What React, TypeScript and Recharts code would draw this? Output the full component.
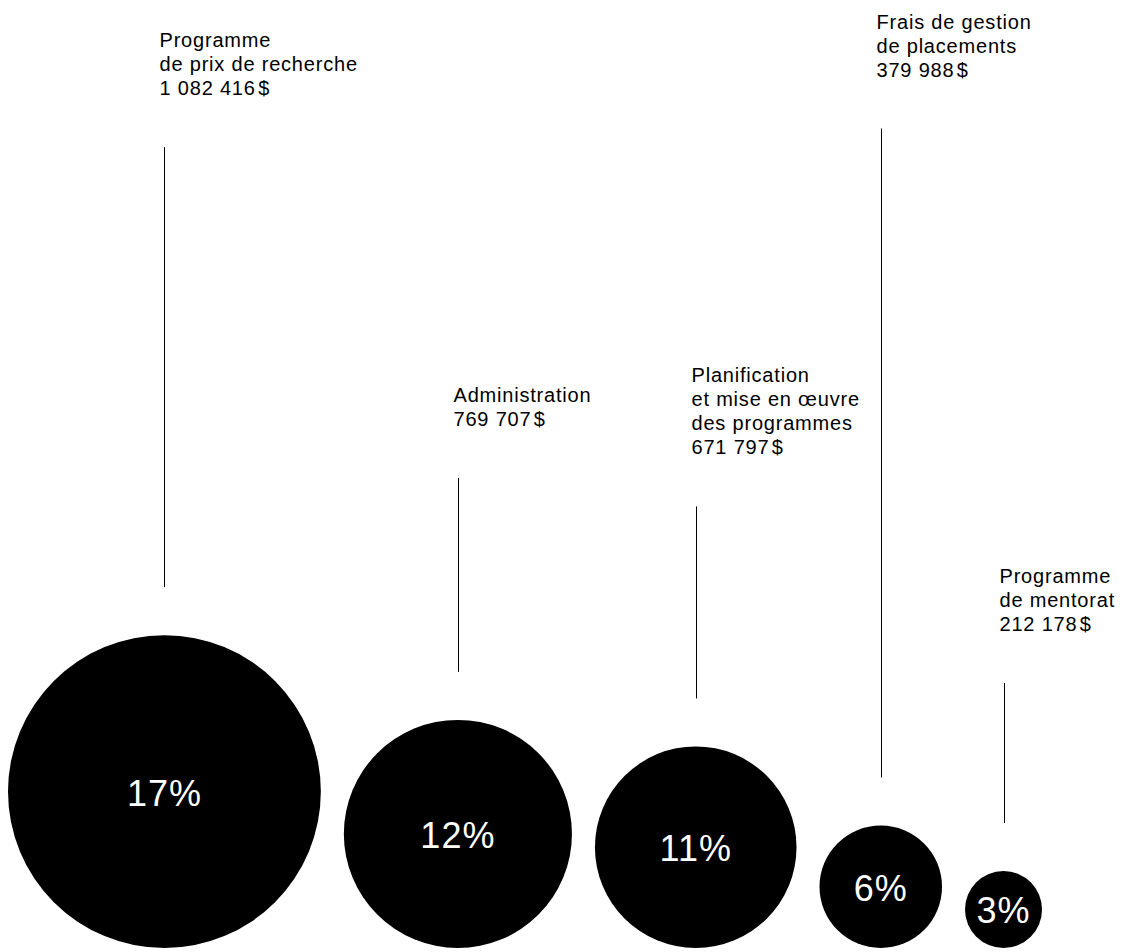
import React from 'react';
import { ScatterChart, Scatter, XAxis, YAxis, ZAxis } from 'recharts';

// ---- data ----
const categories: string[][] = [
  ['Programme', 'de prix de recherche'],
  ['Administration'],
  ['Planification', 'et mise en œuvre', 'des programmes'],
  ['Frais de gestion', 'de placements'],
  ['Programme', 'de mentorat'],
];
const amounts: number[] = [1082416, 769707, 671797, 379988, 212178];
const percents: number[] = [17, 12, 11, 6, 3];

// ---- layout / style constants ----
const CHART_W = 1122;
const CHART_H = 944;
const PX_PER_DOLLAR = 1.355e-4; // bubble radius scale (px per $)
const RADIUS_OFFSET = 72000; // $ offset so radius = PX_PER_DOLLAR * (amount + offset)
const GAP_PX = 23; // space between bubbles
const LEADER_LENGTHS = [440, 194, 192, 649, 140];
const LEADER_GAP = 48;
const LABEL_GAP = 52;
const LINE_H = 24;
const FONT = '"Liberation Sans", Arial, sans-serif';

const fmtAmount = (n: number) =>
  String(n).replace(/\B(?=(\d{3})+(?!\d))/g, ' ') + '\u200A$';

const maxAmount = Math.max(...amounts);
const gapUnits = GAP_PX / PX_PER_DOLLAR;

let acc = 0;
const table = amounts.map((amount, i) => {
  const half = amount + RADIUS_OFFSET;
  const pos = acc + half;
  acc += 2 * half + gapUnits;
  return {
    index: i,
    pos,
    base: 0,
    amount,
    percent: percents[i],
    lines: [...categories[i], fmtAmount(amount)],
  };
});

function Bubble(props: any) {
  const { cx, cy, size, payload } = props;
  const r = size;
  const centerY = cy - r;
  const top = cy - 2 * r;
  const leaderBottom = top - LEADER_GAP;
  const leaderTop = leaderBottom - LEADER_LENGTHS[payload.index];
  const lx = Math.round(cx) + 0.5;
  const lines: string[] = payload.lines;
  return (
    <g>
      <line x1={lx} x2={lx} y1={leaderTop} y2={leaderBottom} stroke="#000" strokeWidth={1} />
      {lines.map((t, k) => (
        <text
          key={k}
          x={lx - 5}
          y={leaderTop - LABEL_GAP - (lines.length - 1 - k) * LINE_H}
          fontFamily={FONT}
          fontSize={20}
          letterSpacing={0.8}
          fill="#000"
        >
          {t}
        </text>
      ))}
      <circle cx={cx} cy={centerY} r={r} fill="#000" />
      <text
        x={cx}
        y={centerY + 14}
        textAnchor="middle"
        fontFamily={FONT}
        fontSize={36}
        letterSpacing={1}
        fill="#fff"
      >
        {payload.percent}%
      </text>
    </g>
  );
}

export default function App() {
  return (
    <ScatterChart
      width={CHART_W}
      height={CHART_H}
      margin={{ top: 0, right: 0, bottom: 4, left: 0 }}
    >
      <XAxis type="number" dataKey="pos" domain={[0, CHART_W / PX_PER_DOLLAR]} hide />
      <YAxis type="number" dataKey="base" domain={[0, 1]} hide />
      <ZAxis
        type="number"
        dataKey="amount"
        domain={[0, maxAmount]}
        range={[PX_PER_DOLLAR * RADIUS_OFFSET, PX_PER_DOLLAR * (maxAmount + RADIUS_OFFSET)]}
      />
      <Scatter data={table} shape={<Bubble />} isAnimationActive={false} />
    </ScatterChart>
  );
}
